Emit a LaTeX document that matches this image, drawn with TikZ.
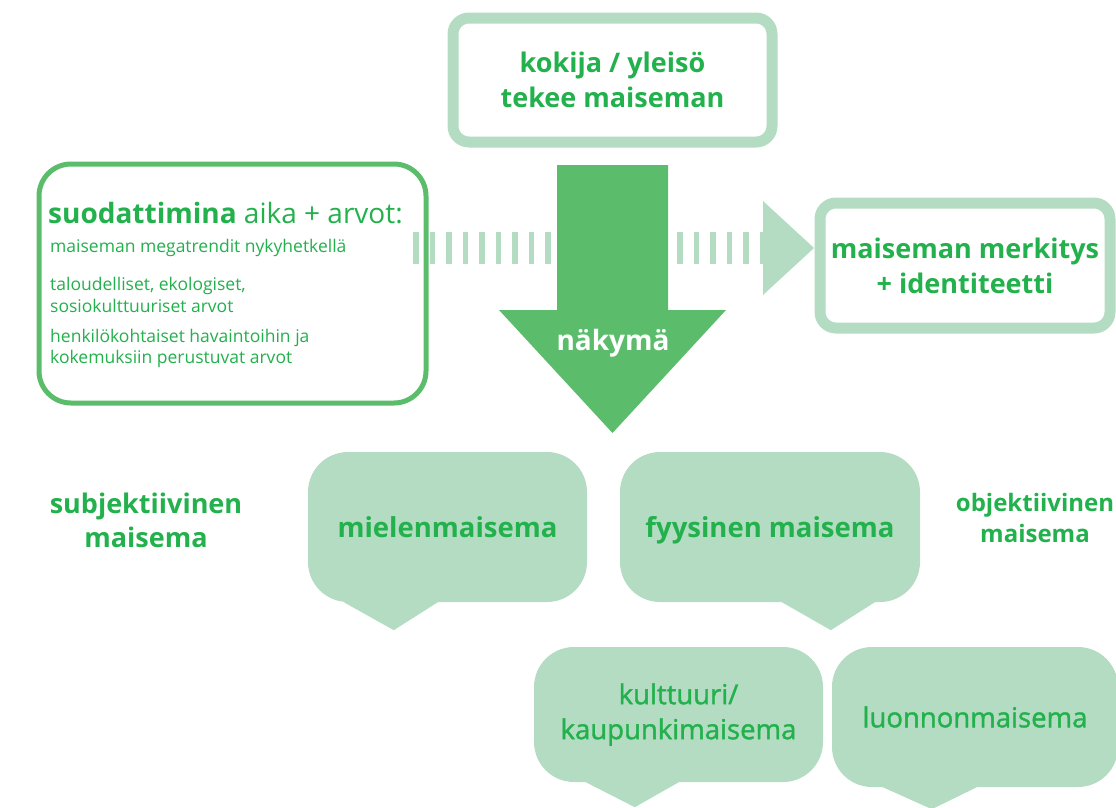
\documentclass[tikz,border=0pt]{standalone}
\usepackage{fontspec}
\setmainfont{Open Sans}
\newfontfamily\semifont[FakeBold=1.4]{Open Sans}
\definecolor{palegreen}{HTML}{B4DCC2}
\definecolor{arrowgreen}{HTML}{5BBD6B}
\definecolor{textgreen}{HTML}{22B14C}

\begin{document}
\begin{tikzpicture}[x=1pt, y=-1pt,
  framebox/.style = {draw=palegreen, line width=11pt, rounded corners=16pt, fill=white, text=textgreen, align=center, font=\fontsize{27}{35}\selectfont\bfseries},
  filterbox/.style = {draw=arrowgreen, line width=5pt, rounded corners=32pt, fill=white},
  listline/.style = {anchor=base west, inner sep=0pt, text=textgreen, font=\fontsize{17.5}{22}\selectfont},
  bubble/.style = {fill=palegreen, rounded corners=40pt, text=textgreen, align=center, font=\fontsize{27.5}{35}\selectfont\bfseries},
  softbubble/.style = {bubble, font=\fontsize{27.5}{35}\selectfont\semifont},
  sidelabel/.style = {text=textgreen, align=center, inner sep=0pt}]
\useasboundingbox (0,0) rectangle (1116,807);

% top and right frames
\node[framebox, minimum width=319pt, minimum height=124pt] (viewer) at (612.5,80) {kokija / yleisö\\tekee maiseman};
\node[framebox, minimum width=290pt, minimum height=125pt] (meaning) at (965,265.5) {maiseman merkitys\\+ identiteetti};

% filter box
\node[filterbox, minimum width=387pt, minimum height=239pt] (filt) at (232.5,283.5) {};
\node[listline, font=\fontsize{28}{34}\selectfont] (filthead) at (48,223) {\textbf{suodattimina} aika + arvot:};
\node[listline] (trend) at (50,252) {maiseman megatrendit nykyhetkellä};
\node[listline] (econ) at (50,290) {taloudelliset, ekologiset,};
\node[listline] (socio) at (50,312) {sosiokulttuuriset arvot};
\node[listline] (pers) at (50,342) {henkilökohtaiset havaintoihin ja};
\node[listline] (exper) at (50,363) {kokemuksiin perustuvat arvot};

% striped arrow to the meaning box
\coordinate (barstart) at (413,248);
\coordinate (barend) at (765,248);
\draw[palegreen, line width=32pt, dash pattern=on 5.7pt off 10.8pt] (barstart) -- (barend);
\fill[palegreen] (763,201) -- (814,248) -- (763,295) -- cycle;

% big arrow
\fill[arrowgreen] (557,165) -- (668,165) -- (668,310) -- (726,310) -- (612.5,433) -- (499,310) -- (557,310) -- cycle;
\node[anchor=base, inner sep=0pt, text=white, font=\fontsize{28}{34}\selectfont\bfseries] (view) at (613,350) {näkymä};

% side labels
\node[sidelabel, font=\fontsize{27}{34}\selectfont\bfseries] (subj) at (146,520) {subjektiivinen\\maisema};
\node[sidelabel, font=\fontsize{24}{31}\selectfont\bfseries] (obj) at (1035,518.4) {objektiivinen\\maisema};

% speech bubbles
\node[bubble, minimum width=279pt, minimum height=150pt] (mind) at (447.5,527) {mielenmaisema};
\node[bubble, minimum width=300pt, minimum height=150pt, text depth=0pt] (phys) at (770,527) {fyysinen maisema};
\node[softbubble, minimum width=289pt, minimum height=135pt] (city) at (678.5,714.5) {kulttuuri/\\kaupunkimaisema};
\node[softbubble, minimum width=286pt, minimum height=140pt] (nature) at (975,717) {luonnonmaisema};

\fill[palegreen] ([xshift=36pt]mind.south west) -- ([xshift=130pt]mind.south west) -- ([shift={(86pt,-28pt)}]mind.south west) -- cycle;
\fill[palegreen] ([xshift=162pt]phys.south west) -- ([xshift=255pt]phys.south west) -- ([shift={(211pt,-28pt)}]phys.south west) -- cycle;
\fill[palegreen] ([xshift=52pt]city.south west) -- ([xshift=145pt]city.south west) -- ([shift={(101pt,-25pt)}]city.south west) -- cycle;
\fill[palegreen] ([xshift=51pt]nature.south west) -- ([xshift=145pt]nature.south west) -- ([shift={(100pt,-22pt)}]nature.south west) -- cycle;
\end{tikzpicture}
\end{document}
